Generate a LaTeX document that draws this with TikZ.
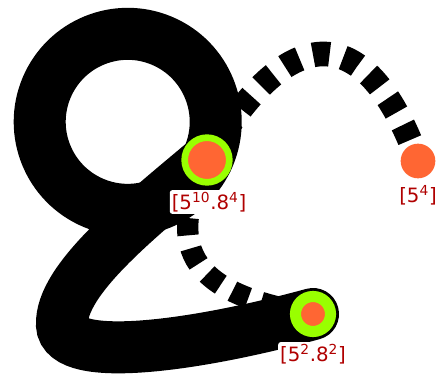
\documentclass[tikz,border=0pt]{standalone}
\usepackage{fontspec}
\setmainfont{DejaVu Sans}
\usepackage{xcolor}
\usepackage{tikz}
\usetikzlibrary{positioning,calc}
\definecolor{lime}{HTML}{99FF00}
\definecolor{coral}{HTML}{FF6633}
\definecolor{wine}{HTML}{B00000}
\tikzset{
  bigsite/.style ={circle, fill=coral, draw=lime, line width=5pt, minimum size=33.5pt, inner sep=0pt},
  smallsite/.style={circle, fill=coral, draw=lime, line width=8.3pt, minimum size=26.3pt, inner sep=0pt},
  baresite/.style={circle, fill=coral, minimum size=26pt, inner sep=0pt},
  fat/.style     ={line width=39pt, line cap=round},
  dots/.style    ={line width=18.5pt, dash pattern=on 12.5pt off 10.5pt},
  lowdots/.style ={line width=16pt, dash pattern=on 13pt off 10pt},
  tag/.style     ={fill=white, rounded corners=2pt, inner sep=1.5pt, text=wine, font=\fontsize{14.8}{16}\selectfont},
}

\begin{document}
\begin{tikzpicture}[x=0.75pt, y=-0.75pt]
        \useasboundingbox (0,0) rectangle (436,377);
        \coordinate (A) at (207,160);
        \coordinate (B) at (313,314);
        \coordinate (C) at (418,161);
        % dashed links
        \draw[dots] (A) .. controls (285,24) and (364,13) .. (C);
        \draw[lowdots] (A) .. controls (162,252) and (195,295) .. (B);
        % thick links
        \draw[fat] (A) arc[start angle=25.7, delta angle=360, radius=88];
        \draw[fat] (A) .. controls (138,218) and (60,280) .. (62,325)
                       .. controls (64,365) and (200,345) .. (B);
        \node[bigsite]   (a) at (A) {};
        \node[smallsite] (b) at (B) {};
        \node[baresite]  (c) at (C) {};
        \node[tag] (la) at (209,202) {[5\textsuperscript{10}.8\textsuperscript{4}]};
        \node[tag] (lb) at (313,354) {[5\textsuperscript{2}.8\textsuperscript{2}]};
        \node[tag] (lc) at (418,195) {[5\textsuperscript{4}]};
      \end{tikzpicture}
\end{document}
